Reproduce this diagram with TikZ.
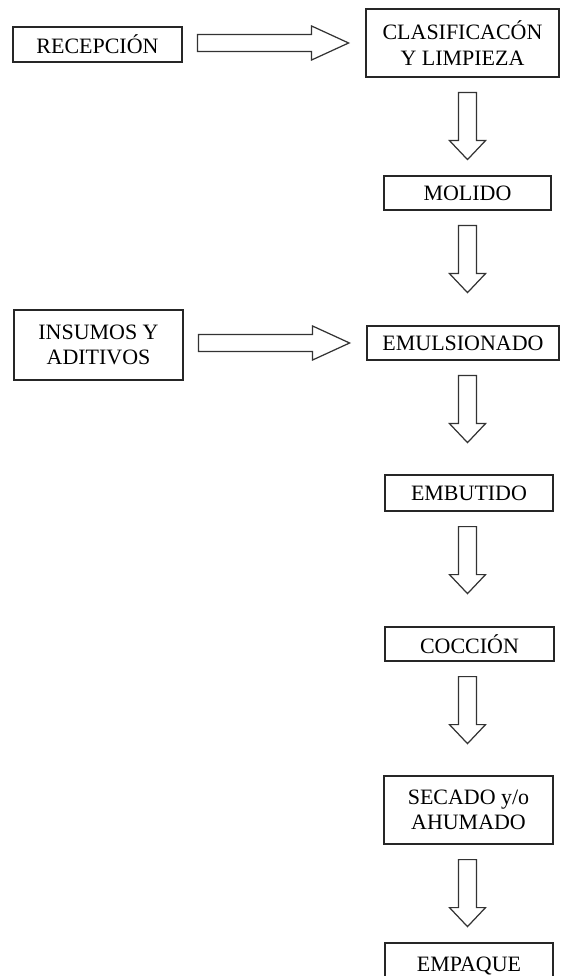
\documentclass[tikz,border=0pt]{standalone}
\usepackage{fontspec}
\setmainfont{Liberation Serif}

\begin{document}
\begin{tikzpicture}[x=0.02cm,y=-0.02cm,line join=miter,
		caja/.style={draw=black!85,line width=0.7pt,inner sep=0pt,align=center,
			font=\fontsize{12.5}{14.5}\selectfont},
		flecha/.style={draw=black!80,line width=0.7pt,fill=white}]
			\useasboundingbox (0,0) rectangle (561,976);
			\clip (0,0) rectangle (561,976);
			% Flecha horizontal hueca
			\newcommand{\flechah}[2]{
				\draw[flecha] (#1.east |- #2.west) ++(15,0) ++(0,-8.5) -- ++(114,0) -- ++(0,-8.5)
					-- ++(37,17) -- ++(-37,17) -- ++(0,-8.5) -- ++(-114,0) -- cycle;
			}
			% Flecha vertical hueca
			\newcommand{\flechav}[1]{
				\draw[flecha] (#1.south -| eje) ++(0,15) ++(-9,0) -- ++(0,48) -- ++(-9,0)
					-- ++(18,19) -- ++(18,-19) -- ++(-9,0) -- ++(0,-48) -- cycle;
			}
			\coordinate (eje) at (467.5,0);
			% Fila 1
			\node[caja,minimum width=3.38cm,minimum height=0.7cm] (recep) at (97.5,44.5) {RECEPCIÓN};
			\node[caja,minimum width=3.86cm,minimum height=1.36cm] (clasif) at (462.5,43) {CLASIFICACÓN\\Y LIMPIEZA};
			\flechah{recep}{clasif}
			% Molido
			\node[caja,minimum width=3.34cm,minimum height=0.68cm] (molido) at (467.5,193) {MOLIDO};
			\flechav{clasif}
			% Fila 2
			\node[caja,minimum width=3.38cm,minimum height=1.4cm] (insumos) at (98.5,345) {INSUMOS Y\\ADITIVOS};
			\node[caja,minimum width=3.84cm,minimum height=0.68cm] (emuls) at (463,343) {EMULSIONADO};
			\flechav{molido}
			\flechah{insumos}{emuls}
			% Resto del proceso
			\node[caja,minimum width=3.36cm,minimum height=0.72cm] (embutido) at (469,493) {EMBUTIDO};
			\flechav{emuls}
			\node[caja,minimum width=3.38cm,minimum height=0.68cm] (coccion) at (469.5,644) {COCCIÓN};
			\flechav{embutido}
			\node[caja,minimum width=3.38cm,minimum height=1.36cm] (secado) at (468.5,810) {SECADO y/o\\AHUMADO};
			\flechav{coccion}
			\node[caja,minimum width=3.36cm,minimum height=0.92cm] (empaque) at (469,966) {EMPAQUE};
			\flechav{secado}
		\end{tikzpicture}
\end{document}
